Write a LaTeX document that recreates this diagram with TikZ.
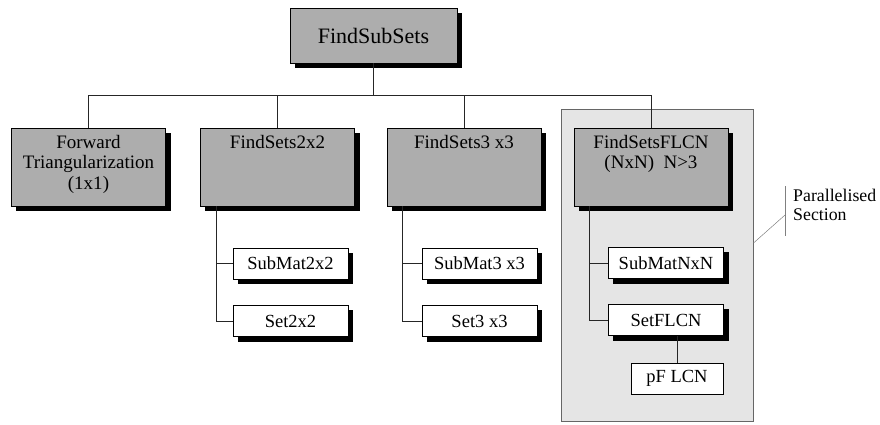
\documentclass[tikz,border=0pt]{standalone}
\usepackage{fontspec}
\setmainfont{Liberation Serif}
\usetikzlibrary{backgrounds}

\definecolor{boxgray}{gray}{0.68}
\definecolor{zonegray}{gray}{0.90}

\begin{document}
\begin{tikzpicture}[x=1pt, y=1pt,
		boxline/.style={draw=black, line width=0.6pt},
		rootbox/.style={boxline, fill=boxgray, minimum width=167pt, minimum height=55pt, inner sep=0pt, font=\fontsize{22}{24}\selectfont},
		lvlbox/.style={boxline, fill=boxgray, minimum width=154pt, minimum height=78pt, inner sep=0pt},
		toptext/.style={anchor=north, align=center, inner sep=0pt, yshift=-7pt, font=\fontsize{19}{20.5}\selectfont},
		plainbox/.style={boxline, fill=white, minimum height=31pt, inner sep=0pt, font=\fontsize{18.5}{20}\selectfont},
		subbox/.style={plainbox, minimum width=115pt},
		shadowfill/.style={fill=black},
		zone/.style={draw=black!60, line width=0.5pt, fill=zonegray},
		link/.style={draw=black!85, line width=0.6pt},
		note/.style={draw=black!50, line width=0.5pt}]
		\useasboundingbox (0,0) rectangle (880,-425);

		% Wurzel
		\node[rootbox] (root) at (373.5,-35.5) {FindSubSets};

		% zweite Ebene
		\node[lvlbox, label={[toptext]north:Forward\\Triangularization\\(1x1)}] (fwd) at (88.5,-167) {};
		\node[lvlbox, label={[toptext]north:FindSets2x2}] (fs2) at (277.5,-167) {};
		\node[lvlbox, label={[toptext]north:FindSets3 x3}] (fs3) at (464,-167) {};
		\node[lvlbox, label={[toptext]north:FindSetsFLCN\\(NxN)~ N>3}] (fsn) at (651,-167) {};

		% dritte Ebene
		\node[subbox] (sub2) at (290.5,-263.5) {SubMat2x2};
		\node[subbox] (set2) at (290.5,-321) {Set2x2};
		\node[subbox] (sub3) at (479.5,-263.5) {SubMat3 x3};
		\node[subbox] (set3) at (479.5,-321) {Set3 x3};
		\node[subbox] (subn) at (666,-263) {SubMatNxN};
		\node[subbox] (setn) at (666,-320) {SetFLCN};
		\node[plainbox, minimum width=92pt] (pflcn) at (677,-378.5) {pF LCN};

		% parallelisierter Bereich und Schatten hinter den Kaesten
		\begin{scope}[on background layer]
			\node[zone, anchor=north west, minimum width=192pt, minimum height=312pt] (par) at (561,-109) {};
			\foreach \n in {root,fwd,fs2,fs3,fsn,sub2,set2,sub3,set3,subn,setn}
				\fill[shadowfill] ([xshift=5pt,yshift=-5pt]\n.south west) rectangle ([xshift=5pt,yshift=-5pt]\n.north east);
		\end{scope}

		% Verbindungen
		\coordinate (bus) at (0,-95);
		\draw[link] (root.south) -- (root.south |- bus);
		\draw[link] (fwd.north) |- (fsn.north |- bus) -- (fsn.north);
		\foreach \n in {fs2,fs3}
			\draw[link] (\n.north) -- (\n.north |- bus);
		\foreach \p/\a/\b in {fs2/sub2/set2, fs3/sub3/set3, fsn/subn/setn} {
			\draw[link] ([xshift=16pt]\p.south west) |- (\b.west);
			\draw[link] ([xshift=16pt]\p.south west) |- (\a.west);
		}
		\draw[link] (pflcn.north) -- (pflcn.north |- setn.south);

		% Beschriftung
		\node[anchor=west, align=left, inner sep=0pt, font=\fontsize{17.8}{19}\selectfont] (plabel) at (793,-205) {Parallelised\\Section};
		\draw[note] ([xshift=-8pt,yshift=3pt]plabel.north west) -- ([xshift=-8pt,yshift=-15pt]plabel.south west);
		\draw[note] (par.east |- 0,-243) -- ([xshift=-8pt,yshift=-10pt]plabel.west);
	\end{tikzpicture}
\end{document}
